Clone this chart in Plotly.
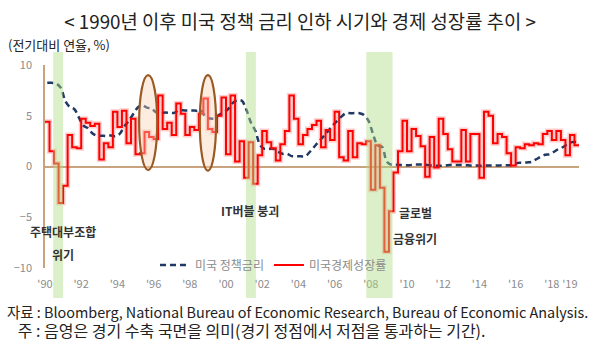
import plotly.graph_objects as go

# ---------------- data ----------------
start_year = 1990
# Real GDP growth, q/q annualized (%), 1990Q1 .. 2019Q2
gdp_growth = [
    4.4, 1.5, 0.3, -3.6,   # 1990
    -1.9, 3.1, 1.9, 1.8,   # 1991
    4.7, 4.3, 4.0, 4.2,    # 1992
    0.7, 2.3, 1.9, 5.4,    # 1993
    3.9, 5.5, 2.3, 4.7,    # 1994
    1.2, 1.3, 3.4, 2.9,    # 1995
    2.7, 7.0, 3.7, 4.3,    # 1996
    3.1, 6.2, 5.2, 3.1,    # 1997
    3.9, 3.6, 5.2, 6.7,    # 1998
    3.7, 3.4, 5.0, 6.8,    # 1999
    1.2, 7.0, 0.5, 2.5,    # 2000
    -1.1, 2.4, -1.7, 1.1,  # 2001
    3.5, 2.4, 1.8, 0.6,    # 2002
    2.2, 3.5, 7.0, 4.7,    # 2003
    2.2, 3.1, 3.7, 4.1,    # 2004
    4.5, 1.9, 3.6, 2.6,    # 2005
    5.4, 0.9, 0.6, 3.5,    # 2006
    0.9, 2.3, 2.2, 2.5,    # 2007
    -2.3, 2.1, -2.1, -8.4, # 2008
    -4.4, -0.6, 1.5, 4.5,  # 2009
    1.5, 3.7, 3.0, 2.0,    # 2010
    -1.0, 2.9, -0.1, 4.7,  # 2011
    3.2, 1.7, 0.5, 0.5,    # 2012
    3.6, 0.5, 3.2, 3.2,    # 2013
    -1.1, 5.4, 5.0, 2.3,   # 2014
    3.2, 2.9, 1.3, 0.1,    # 2015
    1.9, 1.8, 2.2, 2.1,    # 2016
    2.3, 2.2, 3.2, 3.5,    # 2017
    2.6, 3.5, 2.6, 1.1,    # 2018
    3.1, 2.1,              # 2019
]
# Effective federal funds rate, quarterly average (%), 1990Q1 .. 2019Q2
policy_rate = [
    8.25, 8.24, 8.16, 7.74,
    6.43, 5.86, 5.64, 4.82,
    4.02, 3.77, 3.26, 3.04,
    3.04, 3.00, 3.06, 2.99,
    3.21, 3.94, 4.49, 5.17,
    5.81, 6.02, 5.80, 5.72,
    5.36, 5.24, 5.31, 5.28,
    5.28, 5.52, 5.53, 5.51,
    5.52, 5.50, 5.53, 4.86,
    4.73, 4.75, 5.09, 5.31,
    5.68, 6.27, 6.52, 6.47,
    5.59, 4.33, 3.50, 2.13,
    1.73, 1.75, 1.74, 1.44,
    1.25, 1.25, 1.02, 1.00,
    1.00, 1.01, 1.43, 1.95,
    2.47, 2.94, 3.46, 3.98,
    4.46, 4.91, 5.25, 5.25,
    5.26, 5.25, 5.07, 4.50,
    3.18, 2.09, 1.94, 0.51,
    0.18, 0.18, 0.16, 0.12,
    0.13, 0.19, 0.19, 0.19,
    0.16, 0.09, 0.08, 0.07,
    0.10, 0.15, 0.14, 0.16,
    0.14, 0.12, 0.08, 0.09,
    0.07, 0.09, 0.09, 0.10,
    0.11, 0.12, 0.13, 0.16,
    0.36, 0.37, 0.40, 0.45,
    0.70, 0.95, 1.15, 1.20,
    1.45, 1.74, 1.92, 2.22,
    2.40, 2.40,
]
# recession (contraction) periods, shaded
recession_start = [1990.45, 2001.1, 2007.75]
recession_end = [1991.0, 2001.65, 2009.2]
# rate-cut periods circled
cut_start = [1995.2, 1998.55]
cut_end = [1996.2, 1999.45]
cut_top = [9.0, 9.0]
cut_bottom = [-0.35, -0.4]

tick_years = list(range(1990, 2019, 2)) + [2019]
tick_labels = ["'" + str(y)[2:] for y in tick_years]

crisis_labels = ["주택대부조합", "위기", "IT버블 붕괴", "글로벌", "금융위기"]
crisis_x = [1991.0, 1991.0, 2001.33, 2010.45, 2010.45]
crisis_y = [-6.45, -8.7, -4.3, -4.5, -7.05]

title_text = "< 1990년 이후 미국 정책 금리 인하 시기와 경제 성장률 추이 >"
unit_text = "(전기대비 연율, %)"
source_text = "자료 : Bloomberg, National Bureau of Economic Research, Bureau of Economic Analysis."
note_text = "주 : 음영은 경기 수축 국면을 의미(경기 정점에서 저점을 통과하는 기간)."

# ---------------- figure ----------------
FONT = "Noto Sans CJK KR"
W, H = 600, 350
ML, MR, MT, MB = 45, 21, 65, 82
PW, PH = W - ML - MR, H - MT - MB

def px_x(px):
    return (px - ML) / PW

def px_y(py):
    return (H - MB - py) / PH

# step series for growth (each quarter held flat)
gx, gy = [], []
for i, v in enumerate(gdp_growth):
    q = start_year + i * 0.25
    gx += [q, q + 0.25]
    gy += [v, v]

px_pol = [start_year + i * 0.25 + 0.125 for i in range(len(policy_rate))]

fig = go.Figure()
fig.add_trace(go.Scatter(x=gx, y=gy, mode="lines", showlegend=False, hoverinfo="skip",
                         line=dict(color="rgba(255,110,110,0.35)", width=5)))
fig.add_trace(go.Scatter(x=px_pol, y=policy_rate, mode="lines", name="미국 정책금리",
                         line=dict(color="#1f3864", width=2.5, dash="6px,4px", shape="spline")))
fig.add_trace(go.Scatter(x=gx, y=gy, mode="lines", name="미국경제성장률",
                         line=dict(color="#ff0000", width=2)))

shapes = []
for s, e in zip(recession_start, recession_end):
    shapes.append(dict(type="rect", xref="x", yref="paper", x0=s, x1=e,
                       y0=px_y(298), y1=px_y(52), fillcolor="rgba(175,222,135,0.45)",
                       line=dict(width=0), layer="above"))
for s, e, t, b in zip(cut_start, cut_end, cut_top, cut_bottom):
    shapes.append(dict(type="circle", xref="x", yref="y", x0=s, x1=e, y0=b, y1=t,
                       fillcolor="rgba(250,210,180,0.4)",
                       line=dict(color="#9a5a24", width=2.2), layer="above"))

annotations = []
for txt, x, y in zip(crisis_labels, crisis_x, crisis_y):
    annotations.append(dict(text="<b>" + txt + "</b>", x=x, y=y, xref="x", yref="y",
                            showarrow=False, font=dict(family=FONT, size=12, color="#333333")))
annotations.append(dict(text=unit_text, x=px_x(6), y=px_y(45), xref="paper", yref="paper",
                        xanchor="left", yanchor="middle", showarrow=False,
                        font=dict(family=FONT, size=13, color="#222222")))
foot = (source_text + "<br><span style=\"font-size:16px\">\u00a0\u00a0\u00a0"
        + note_text + "</span>")
annotations.append(dict(text=foot, x=px_x(5), y=px_y(321.5), xref="paper", yref="paper",
                        xanchor="left", yanchor="middle", align="left", showarrow=False,
                        font=dict(family=FONT, size=14.4, color="#222222")))

fig.update_layout(
    width=W, height=H, autosize=False,
    margin=dict(l=ML, r=MR, t=MT, b=MB),
    paper_bgcolor="white", plot_bgcolor="white",
    font=dict(family=FONT),
    title=dict(text=title_text, x=0.5, xanchor="center", xref="container",
               y=1 - 22 / H, yanchor="middle", yref="container",
               font=dict(family=FONT, size=18.8, color="#222222")),
    xaxis=dict(range=[1990, 2019.5], showgrid=False, zeroline=False, showline=False,
               tickmode="array", tickvals=tick_years, ticktext=tick_labels, ticks="",
               tickfont=dict(family=FONT, size=11, color="#8c8c8c"),
               ticklabelstandoff=8),
    yaxis=dict(range=[-10, 10], showgrid=False, zeroline=True, zerolinecolor="#c9a27e",
               zerolinewidth=1.5, showline=True, linecolor="#c9a27e", linewidth=1.5,
               tickmode="array", tickvals=[-10, -5, 0, 5, 10], ticks="",
               tickfont=dict(family=FONT, size=11, color="#8c8c8c"), ticklabelstandoff=9),
    legend=dict(orientation="h", x=px_x(155), y=px_y(265), xanchor="left", yanchor="middle",
                bgcolor="rgba(0,0,0,0)", font=dict(family=FONT, size=12, color="#8c8c8c"),
                itemwidth=30),
    shapes=shapes,
    annotations=annotations,
)

fig.write_html("out.html")
